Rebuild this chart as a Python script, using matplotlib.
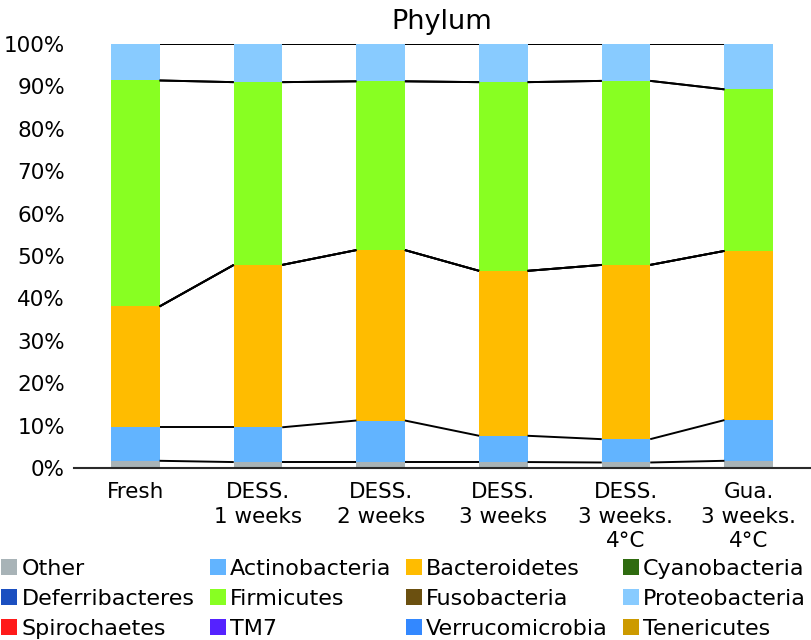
import numpy as np
import matplotlib
matplotlib.use("Agg")
import matplotlib.pyplot as plt

samples = ["Fresh", "DESS.\n1 weeks", "DESS.\n2 weeks", "DESS.\n3 weeks",
           "DESS.\n3 weeks.\n4°C", "Gua.\n3 weeks.\n4°C"]

# percent of reads per phylum, bottom to top of the stack
phyla = ["Other", "Actinobacteria", "Bacteroidetes", "Cyanobacteria",
         "Deferribacteres", "Firmicutes", "Fusobacteria", "Proteobacteria",
         "Spirochaetes", "TM7", "Verrucomicrobia", "Tenericutes"]
other = [1.7, 1.4, 1.4, 1.4, 1.3, 1.7]
actinobacteria = [7.9, 8.2, 9.8, 6.2, 5.5, 9.6]
bacteroidetes = [28.5, 38.3, 40.2, 38.9, 41.1, 39.9]
cyanobacteria = [0, 0, 0, 0, 0, 0]
deferribacteres = [0, 0, 0, 0, 0, 0]
firmicutes = [53.3, 43.1, 39.8, 44.5, 43.4, 38.1]
fusobacteria = [0, 0, 0, 0, 0, 0]
proteobacteria = [8.6, 9.0, 8.8, 9.0, 8.7, 10.7]
spirochaetes = [0, 0, 0, 0, 0, 0]
tm7 = [0, 0, 0, 0, 0, 0]
verrucomicrobia = [0, 0, 0, 0, 0, 0]
tenericutes = [0, 0, 0, 0, 0, 0]

series = [other, actinobacteria, bacteroidetes, cyanobacteria, deferribacteres,
          firmicutes, fusobacteria, proteobacteria, spirochaetes, tm7,
          verrucomicrobia, tenericutes]
colors = ["#A8B3B7", "#62B4FF", "#FFBC00", "#2F6B10", "#1B4FC0", "#88FF22",
          "#6B5010", "#88CBFF", "#FF1A1A", "#5522FF", "#3388FF", "#CC9A00"]

fig = plt.figure(figsize=(8.12, 6.4), dpi=100)
ax = fig.add_axes([74 / 812, 1 - 468 / 640, 736 / 812, 424 / 640])

x = np.arange(len(samples))
w = 0.395
bottom = np.zeros(len(samples))
handles = {}
for name, vals, col in zip(phyla, series, colors):
    vals = np.array(vals) / 100.0
    b = ax.bar(x, vals, w, bottom=bottom, color=col, label=name, zorder=2)
    handles[name] = b
    bottom = bottom + vals
    # series lines between bars
    for i in range(len(x) - 1):
        ax.plot([x[i] + w / 2, x[i + 1] - w / 2], [bottom[i], bottom[i + 1]],
                color="black", lw=1.4, zorder=3, solid_capstyle="butt")

ax.set_xlim(-0.5, 5.5)
ax.set_ylim(0, 1)
ax.set_xticks(x)
ax.set_xticklabels(samples, fontsize=15.5, linespacing=1.3)
ax.set_yticks(np.arange(0, 1.01, 0.1))
ax.set_yticklabels([f"{int(round(v * 100))}%" for v in np.arange(0, 1.01, 0.1)],
                   fontsize=15.5)
ax.tick_params(axis="both", length=0)
ax.tick_params(axis="x", pad=10)
ax.tick_params(axis="y", pad=6.5)
for s in ["top", "right", "left"]:
    ax.spines[s].set_visible(False)
ax.spines["bottom"].set_color("#2a2a2a")
ax.spines["bottom"].set_linewidth(1.5)
ax.spines["bottom"].set_zorder(4)

ax.set_title("Phylum", fontsize=19.5, pad=11)

# legend is row-major in the picture, matplotlib fills columns
order = ["Other", "Deferribacteres", "Spirochaetes",
         "Actinobacteria", "Firmicutes", "TM7",
         "Bacteroidetes", "Fusobacteria", "Verrucomicrobia",
         "Cyanobacteria", "Proteobacteria", "Tenericutes"]
fig.legend([handles[n] for n in order], order, ncol=4, loc="lower left",
           bbox_to_anchor=(-0.001, -0.002), frameon=False, fontsize=16,
           handlelength=0.72, handleheight=0.72, handletextpad=0.18,
           columnspacing=0.68, labelspacing=0.45, borderpad=0.1,
           borderaxespad=0.0)

fig.savefig("out.png", dpi=100)
